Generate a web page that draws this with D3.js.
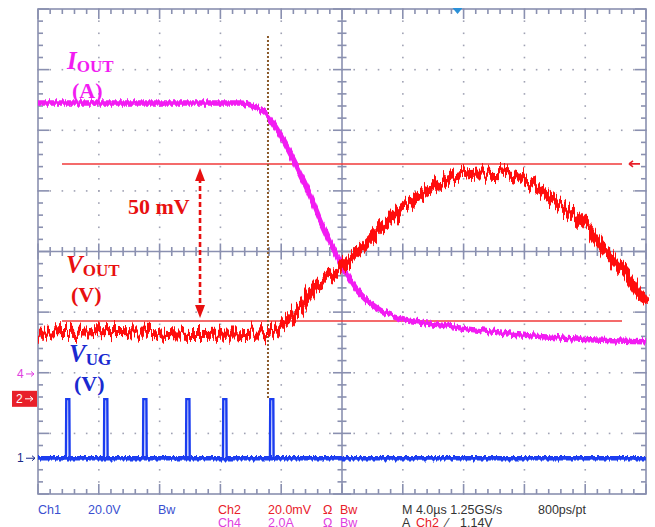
<!DOCTYPE html>
<html>
<head>
<meta charset="utf-8">
<script src="https://cdn.jsdelivr.net/npm/d3@7"></script>
<style>
  body { margin: 0; background: #fff; }
  svg { display: block; }
  .lbl { font-family: "Liberation Serif", "Times New Roman", serif; font-weight: bold; }
  .info { font-family: "Liberation Sans Narrow", "Liberation Sans", Arial, sans-serif; font-size: 12.5px; }
</style>
</head>
<body>
<div class="scope"></div>
<script>
// data
// time axis in µs, 4 µs/div, 10 div
const iout_t = [0, 13.29, 14.28, 15.07, 16.12, 17.04, 17.89, 18.55, 20.07, 20.99, 22.5, 23.82, 26.45, 30.39, 34.34, 40];
const iout_A = [8.94, 8.94, 8.81, 8.54, 7.72, 6.83, 5.91, 5.08, 3.53, 2.77, 2.11, 1.85, 1.62, 1.35, 1.19, 1.06];

const vout_t = [0, 5.39, 10.66, 15.13, 15.92, 17.24, 18.09, 19.87, 21.18, 22.7, 23.82, 25.13, 26.45, 27.76, 29.08, 30.39, 31.91, 33.03, 34.14, 35.86, 37.43, 38.75, 40];
const vout_mV = [21.6, 22.2, 21.2, 21.9, 24.1, 30.0, 36.0, 43.5, 49.2, 56.7, 62.4, 67.0, 71.3, 73.6, 74.2, 73.9, 72.2, 68.9, 64.7, 58.4, 48.2, 40.9, 31.7];

const ug_pulse_t = [1.84, 4.34, 6.91, 9.74, 12.17, 15.26];
const ug_high_V = 19.5;
const ug_pulse_width = 0.24;

const ref_mV = [77.5, 25.7];
const cursor_t = 15.13;     // dotted marker
const arrow_t = 10.66;      // 50 mV arrow
const trig_t = 27.6;

const info_row1 = [
  {text: 'Ch1', c: '#3a4fd0'}, {text: '20.0V', c: '#3a4fd0'}, {text: 'Bw', c: '#3a4fd0'},
  {text: 'Ch2', c: '#e8202a'}, {text: '20.0mV', c: '#e8202a'}, {text: 'Ω', c: '#e8202a'}, {text: 'Bw', c: '#e8202a'},
  {text: 'M 4.0µs 1.25GS/s', c: '#333'}, {text: '800ps/pt', c: '#333'}
];
const info_row2 = [
  {text: 'Ch4', c: '#e040e0'}, {text: '2.0A', c: '#e040e0'}, {text: 'Ω', c: '#e040e0'}, {text: 'Bw', c: '#e040e0'},
  {text: 'A', c: '#333'}, {text: 'Ch2', c: '#e8202a'}, {text: '⁄', c: '#333'}, {text: '1.14V', c: '#333'}
];

// layout
const svg_width = 655, svg_height = 527;
const frame = {left: 38, right: 646, top: 9, bottom: 494};
const frame_col = '#8a90b0';

const svg = d3.select('.scope').append('svg')
  .attr('width', svg_width).attr('height', svg_height);

const x = d3.scaleLinear().domain([0, 40]).range([frame.left, frame.right]);
const y_div = d3.scaleLinear().domain([-4, 4]).range([frame.bottom, frame.top]);
const div_w = (frame.right - frame.left) / 10;
const div_h = (frame.bottom - frame.top) / 8;

// channel position (div) and scale per div
function ch_scale(pos, per_div){
  return v => y_div(pos + v / per_div);
}
const y_ch1 = ch_scale(-3.41, 20);
const y_ch2 = ch_scale(-2.43, 20);
const y_ch4 = ch_scale(-2.02, 2);

// noise filters (texture only)
const defs = svg.append('defs');
function noise_filter(id, freq, scale, seed){
  const f = defs.append('filter').attr('id', id)
    .attr('filterUnits', 'userSpaceOnUse')
    .attr('x', 0).attr('y', 0).attr('width', svg_width).attr('height', svg_height);
  f.append('feTurbulence').attr('type', 'fractalNoise')
    .attr('baseFrequency', freq).attr('numOctaves', 2).attr('seed', seed).attr('result', 'n');
  f.append('feColorMatrix').attr('in', 'n').attr('type', 'matrix')
    .attr('values', '0 0 0 0 0.5  0 1 0 0 0  0 0 1 0 0  0 0 0 0 1').attr('result', 'n2');
  f.append('feDisplacementMap').attr('in', 'SourceGraphic').attr('in2', 'n2')
    .attr('scale', scale).attr('xChannelSelector', 'R').attr('yChannelSelector', 'G');
}
noise_filter('nz_red', '0.45 0.02', 26, 3);
noise_filter('nz_mag', '0.45 0.02', 8, 7);
noise_filter('nz_blue', '0.45 0.02', 6, 11);

// grid dots
const grid = svg.append('g').attr('fill', '#a0a2b4');
for (let i = 1; i < 8; i++) {
  if (i === 4) continue;
  const yy = y_div(i - 4);
  d3.range(0, 51).forEach(k => {
    grid.append('rect').attr('x', frame.left + k * div_w / 5 - 0.75).attr('y', yy - 0.75)
      .attr('width', 1.6).attr('height', 1.6);
  });
}
for (let i = 1; i < 10; i++) {
  if (i === 5) continue;
  const xx = frame.left + i * div_w;
  d3.range(0, 41).forEach(k => {
    grid.append('rect').attr('x', xx - 0.75).attr('y', frame.top + k * div_h / 5 - 0.75)
      .attr('width', 1.6).attr('height', 1.6);
  });
}

// frame + ticks
const fr = svg.append('g').attr('stroke', frame_col).attr('stroke-width', 1.6).attr('fill', 'none');
fr.append('rect').attr('x', frame.left).attr('y', frame.top)
  .attr('width', frame.right - frame.left).attr('height', frame.bottom - frame.top);
const cx = (frame.left + frame.right) / 2, cy = y_div(0);
fr.append('line').attr('x1', frame.left).attr('x2', frame.right).attr('y1', cy).attr('y2', cy);
fr.append('line').attr('x1', cx).attr('x2', cx).attr('y1', frame.top).attr('y2', frame.bottom);
d3.range(0, 51).forEach(k => {
  const xx = frame.left + k * div_w / 5;
  const major = k % 5 === 0;
  const len = major ? 10 : 5;
  fr.append('line').attr('x1', xx).attr('x2', xx).attr('y1', frame.top).attr('y2', frame.top + len);
  fr.append('line').attr('x1', xx).attr('x2', xx).attr('y1', frame.bottom).attr('y2', frame.bottom - len);
  const c = major ? 8 : 4.5;
  fr.append('line').attr('x1', xx).attr('x2', xx).attr('y1', cy - c).attr('y2', cy + c);
});
d3.range(0, 41).forEach(k => {
  const yy = frame.top + k * div_h / 5;
  const major = k % 5 === 0;
  const len = major ? 11 : 5;
  fr.append('line').attr('x1', frame.left).attr('x2', frame.left + len).attr('y1', yy).attr('y2', yy);
  fr.append('line').attr('x1', frame.right).attr('x2', frame.right - len).attr('y1', yy).attr('y2', yy);
  const c = major ? 9 : 4.5;
  fr.append('line').attr('x1', cx - c).attr('x2', cx + c).attr('y1', yy).attr('y2', yy);
});

// reference lines (Ch2 levels)
svg.append('g').selectAll('line').data(ref_mV).join('line')
  .attr('x1', 62).attr('x2', 622)
  .attr('y1', d => y_ch2(d)).attr('y2', d => y_ch2(d))
  .attr('stroke', '#f03a3a').attr('stroke-width', 1.5);

// dotted cursor
svg.append('line')
  .attr('x1', x(cursor_t)).attr('x2', x(cursor_t))
  .attr('y1', 36).attr('y2', y_ch1(ug_high_V))
  .attr('stroke', '#8a5a2a').attr('stroke-width', 2).attr('stroke-dasharray', '2,2');

// traces
const line = d3.line().x(d => x(d[0])).y(d => d[1]);

// VUG (Ch1)
const ug_pts = [[0, y_ch1(0)]];
ug_pulse_t.forEach(t0 => {
  ug_pts.push([t0, y_ch1(0)], [t0 + 0.02, y_ch1(ug_high_V)],
    [t0 + ug_pulse_width - 0.02, y_ch1(ug_high_V)], [t0 + ug_pulse_width, y_ch1(0)]);
});
ug_pts.push([40, y_ch1(0)]);
svg.append('path').datum(ug_pts)
  .attr('d', line)
  .attr('fill', 'none').attr('stroke', '#1a3cf0').attr('stroke-width', 2.4);
svg.append('path').datum([[0, y_ch1(0)], [40, y_ch1(0)]])
  .attr('d', line).attr('filter', 'url(#nz_blue)')
  .attr('fill', 'none').attr('stroke', '#1a3cf0').attr('stroke-width', 4.5);

// IOUT (Ch4)
const iout_line = d3.line().x(d => x(d[0])).y(d => y_ch4(d[1])).curve(d3.curveMonotoneX);
svg.append('path').datum(d3.zip(iout_t, iout_A))
  .attr('d', iout_line).attr('filter', 'url(#nz_mag)')
  .attr('fill', 'none').attr('stroke', '#f21cf2').attr('stroke-width', 5.5);

// VOUT (Ch2)
const vout_line = d3.line().x(d => x(d[0])).y(d => y_ch2(d[1])).curve(d3.curveMonotoneX);
svg.append('path').datum(d3.zip(vout_t, vout_mV))
  .attr('d', vout_line).attr('filter', 'url(#nz_red)')
  .attr('fill', 'none').attr('stroke', '#ff0a0a').attr('stroke-width', 9);

// 50 mV arrow
const ax = x(arrow_t);
const a_top = y_ch2(ref_mV[0]) + 4, a_bot = y_ch2(ref_mV[1]) - 3;
svg.append('line').attr('x1', ax).attr('x2', ax).attr('y1', a_top + 10).attr('y2', a_bot - 10)
  .attr('stroke', '#e81010').attr('stroke-width', 2.6).attr('stroke-dasharray', '5,3');
svg.append('path').attr('d', `M${ax},${a_top} l-5,13 l10,0 z`).attr('fill', '#e81010');
svg.append('path').attr('d', `M${ax},${a_bot} l-5,-13 l10,0 z`).attr('fill', '#e81010');
svg.append('text').attr('class', 'lbl').attr('x', 128).attr('y', 214)
  .style('font-size', '22px').attr('fill', '#e81010').text('50 mV');

// trace labels
function label(x0, y0, main, sub, unit, col){
  const t = svg.append('text').attr('class', 'lbl').attr('x', x0).attr('y', y0).attr('fill', col);
  t.append('tspan').style('font-style', 'italic').style('font-size', '25px').text(main);
  t.append('tspan').style('font-size', '17px').attr('dy', 3).text(sub);
  svg.append('text').attr('class', 'lbl').attr('x', x0 + 5).attr('y', y0 + 29)
    .style('font-size', '22px').attr('fill', col).text(unit);
}
label(67, 69, 'I', 'OUT', '(A)', '#f21cf2');
label(66, 273, 'V', 'OUT', '(V)', '#e81010');
label(69, 362, 'V', 'UG', '(V)', '#1a2ad0');

// channel markers
const mk = svg.append('g').style('font-family', 'Liberation Sans, Arial, sans-serif').style('font-size', '12px');
mk.append('text').attr('x', 17).attr('y', y_ch4(0) + 4).attr('fill', '#e040e0').text('4');
mk.append('path').attr('d', `M26,${y_ch4(0)} h8 m0,0 l-3,-2.5 m3,2.5 l-3,2.5`).attr('stroke', '#e040e0').attr('fill', 'none');
mk.append('rect').attr('x', 12).attr('y', y_ch2(0) - 8).attr('width', 25).attr('height', 16).attr('fill', '#e8202a');
mk.append('text').attr('x', 16).attr('y', y_ch2(0) + 4).attr('fill', '#fff').text('2');
mk.append('path').attr('d', `M25,${y_ch2(0)} h8 m0,0 l-3,-2.5 m3,2.5 l-3,2.5`).attr('stroke', '#fff').attr('fill', 'none');
mk.append('text').attr('x', 17).attr('y', y_ch1(0) + 4).attr('fill', '#1a2a8a').text('1');
mk.append('path').attr('d', `M26,${y_ch1(0)} h9 m0,0 l-3,-2.5 m3,2.5 l-3,2.5`).attr('stroke', '#1a2a8a').attr('fill', 'none');
// trigger level arrow (right)
const ty = y_ch2(ref_mV[0]);
mk.append('path').attr('d', `M640,${ty} h-11 m0,0 l4,-3 m-4,3 l4,3`).attr('stroke', '#e8202a').attr('stroke-width', 1.6).attr('fill', 'none');
// trigger position
mk.append('path').attr('d', `M${x(trig_t) - 5},${frame.top - 1} l10,0 l-5,6 z`).attr('fill', '#2a90d8');

// info rows
const row1_x = [38, 88, 158, 218, 268, 323, 340, 402, 538];
const row2_x = [218, 268, 323, 340, 402, 416, 446, 460];
svg.append('g').attr('class', 'info').selectAll('text').data(info_row1).join('text')
  .attr('x', (d, i) => row1_x[i]).attr('y', 514).attr('fill', d => d.c).text(d => d.text);
svg.append('g').attr('class', 'info').selectAll('text').data(info_row2).join('text')
  .attr('x', (d, i) => row2_x[i]).attr('y', 527).attr('fill', d => d.c).text(d => d.text);
</script>
</body>
</html>
